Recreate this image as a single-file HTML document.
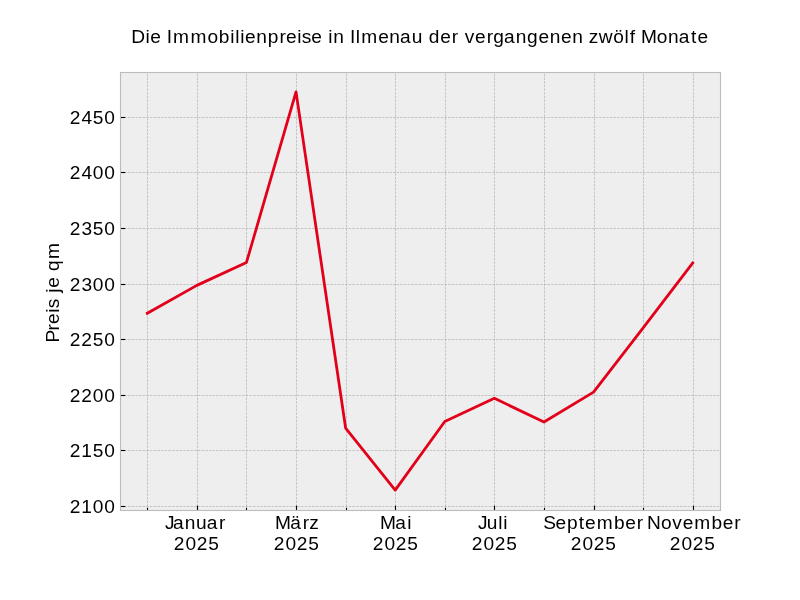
<!DOCTYPE html><html><head><meta charset="utf-8"><title>Immobilienpreise Ilmenau</title>
<style>html,body{margin:0;padding:0;background:#fff;width:800px;height:600px;overflow:hidden}svg{display:block;will-change:transform}text{font-family:"Liberation Sans",sans-serif;fill:#000}</style></head><body>
<svg width="800" height="600" viewBox="0 0 800 600">
<rect x="0" y="0" width="800" height="600" fill="#ffffff"/>
<rect x="120" y="72" width="601" height="439" fill="#eeeeee"/>
<g stroke="#b2b2b2" stroke-width="0.694" stroke-dasharray="2.569 1.111" fill="none">
<line x1="147.5" y1="510.5" x2="147.5" y2="72"/>
<line x1="197.5" y1="510.5" x2="197.5" y2="72"/>
<line x1="246.5" y1="510.5" x2="246.5" y2="72"/>
<line x1="296.5" y1="510.5" x2="296.5" y2="72"/>
<line x1="346.5" y1="510.5" x2="346.5" y2="72"/>
<line x1="395.5" y1="510.5" x2="395.5" y2="72"/>
<line x1="445.5" y1="510.5" x2="445.5" y2="72"/>
<line x1="494.5" y1="510.5" x2="494.5" y2="72"/>
<line x1="544.5" y1="510.5" x2="544.5" y2="72"/>
<line x1="594.5" y1="510.5" x2="594.5" y2="72"/>
<line x1="643.5" y1="510.5" x2="643.5" y2="72"/>
<line x1="693.5" y1="510.5" x2="693.5" y2="72"/>
<line x1="120.55" y1="117.5" x2="720.5" y2="117.5"/>
<line x1="120.55" y1="172.5" x2="720.5" y2="172.5"/>
<line x1="120.55" y1="228.5" x2="720.5" y2="228.5"/>
<line x1="120.55" y1="284.5" x2="720.5" y2="284.5"/>
<line x1="120.55" y1="339.5" x2="720.5" y2="339.5"/>
<line x1="120.55" y1="395.5" x2="720.5" y2="395.5"/>
<line x1="120.55" y1="450.5" x2="720.5" y2="450.5"/>
<line x1="120.55" y1="506.5" x2="720.5" y2="506.5"/>
</g>
<g stroke="#000" stroke-width="1.11" fill="none">
<line x1="120.5" y1="117.5" x2="125.36" y2="117.5"/>
<line x1="120.5" y1="172.5" x2="125.36" y2="172.5"/>
<line x1="120.5" y1="228.5" x2="125.36" y2="228.5"/>
<line x1="120.5" y1="284.5" x2="125.36" y2="284.5"/>
<line x1="120.5" y1="339.5" x2="125.36" y2="339.5"/>
<line x1="120.5" y1="395.5" x2="125.36" y2="395.5"/>
<line x1="120.5" y1="450.5" x2="125.36" y2="450.5"/>
<line x1="120.5" y1="506.5" x2="125.36" y2="506.5"/>
<line x1="197.5" y1="510.5" x2="197.5" y2="505.64"/>
<line x1="296.5" y1="510.5" x2="296.5" y2="505.64"/>
<line x1="395.5" y1="510.5" x2="395.5" y2="505.64"/>
<line x1="494.5" y1="510.5" x2="494.5" y2="505.64"/>
<line x1="594.5" y1="510.5" x2="594.5" y2="505.64"/>
<line x1="693.5" y1="510.5" x2="693.5" y2="505.64"/>
<line x1="147.5" y1="510.5" x2="147.5" y2="507.72"/>
<line x1="246.5" y1="510.5" x2="246.5" y2="507.72"/>
<line x1="346.5" y1="510.5" x2="346.5" y2="507.72"/>
<line x1="445.5" y1="510.5" x2="445.5" y2="507.72"/>
<line x1="544.5" y1="510.5" x2="544.5" y2="507.72"/>
<line x1="643.5" y1="510.5" x2="643.5" y2="507.72"/>
</g>
<polyline points="147.27,313.29 196.86,285.38 246.45,262.47 296.03,91.91 345.62,428.04 395.21,490.09 444.79,421.48 494.38,398.36 543.97,422.03 593.55,392.12 643.14,327.96 692.73,262.91" fill="none" stroke="#e2001a" stroke-width="2.78" stroke-linejoin="round" stroke-linecap="square"/>
<rect x="120.5" y="72.5" width="600" height="438" fill="none" stroke="#bcbcbc" stroke-width="1.11"/>
<text x="131.26 145.55 150.37 155.37 166.87 173.05 190.59 207.46 218.82 230.16 235.16 240.17 244.98 256.21 267.73 279.47 285.92 297.17 301.72 311.37 316.37 328.35 333.32 338.32 350.01 355.78 361.18 378.14 389.37 399.95 411.71 416.71 428.79 440.21 451.86 456.88 464.67 475.06 486.71 493.17 503.91 515.77 527.03 538.45 549.68 560.93 572.16 577.16 588.87 598.78 613.22 624.49 629.75 634.77 640.90 656.83 668.07 678.65 690.93 697.42" y="43" font-size="19.14">Die Immobilienpreise in Ilmenau der vergangenen zwölf Monate</text>
<text x="165.03 172.89 184.75 196.06 206.74 219.02" y="529" font-size="19.14">Januar</text>
<text x="173.87 185.38 196.77 208.30" y="550" font-size="19.14">2025</text>
<text x="275.03 290.36 302.65 309.20" y="529" font-size="19.14">März</text>
<text x="273.87 285.38 296.77 308.30" y="550" font-size="19.14">2025</text>
<text x="380.03 395.36 407.25" y="529" font-size="19.14">Mai</text>
<text x="372.87 384.38 395.77 407.30" y="550" font-size="19.14">2025</text>
<text x="478.03 486.63 498.15 503.16" y="529" font-size="19.14">Juli</text>
<text x="471.87 483.38 494.77 506.30" y="550" font-size="19.14">2025</text>
<text x="543.25 555.56 566.90 578.63 585.12 596.77 613.99 625.15 636.80" y="529" font-size="19.14">September</text>
<text x="570.87 582.38 593.77 605.30" y="550" font-size="19.14">2025</text>
<text x="647.08 660.89 672.26 682.64 694.29 711.51 722.67 734.32" y="529" font-size="19.14">November</text>
<text x="669.87 681.38 692.77 704.30" y="550" font-size="19.14">2025</text>
<text x="69.87 81.50 92.85 104.28" y="124" font-size="19.14">2450</text>
<text x="69.87 81.50 92.83 104.28" y="179" font-size="19.14">2400</text>
<text x="69.87 81.44 92.85 104.28" y="235" font-size="19.14">2350</text>
<text x="69.87 81.44 92.83 104.28" y="291" font-size="19.14">2300</text>
<text x="69.87 81.32 92.85 104.28" y="346" font-size="19.14">2250</text>
<text x="69.87 81.32 92.83 104.28" y="402" font-size="19.14">2200</text>
<text x="69.87 81.37 92.85 104.28" y="457" font-size="19.14">2150</text>
<text x="69.87 81.37 92.83 104.28" y="513" font-size="19.14">2100</text>
<text transform="translate(59,340) rotate(-90)" x="-2.41 9.57 16.01 27.27 31.81 36.81 47.24 52.19 57.19 68.99 80.99" y="0" font-size="19.14">Preis je qm</text>
</svg>
</body></html>
